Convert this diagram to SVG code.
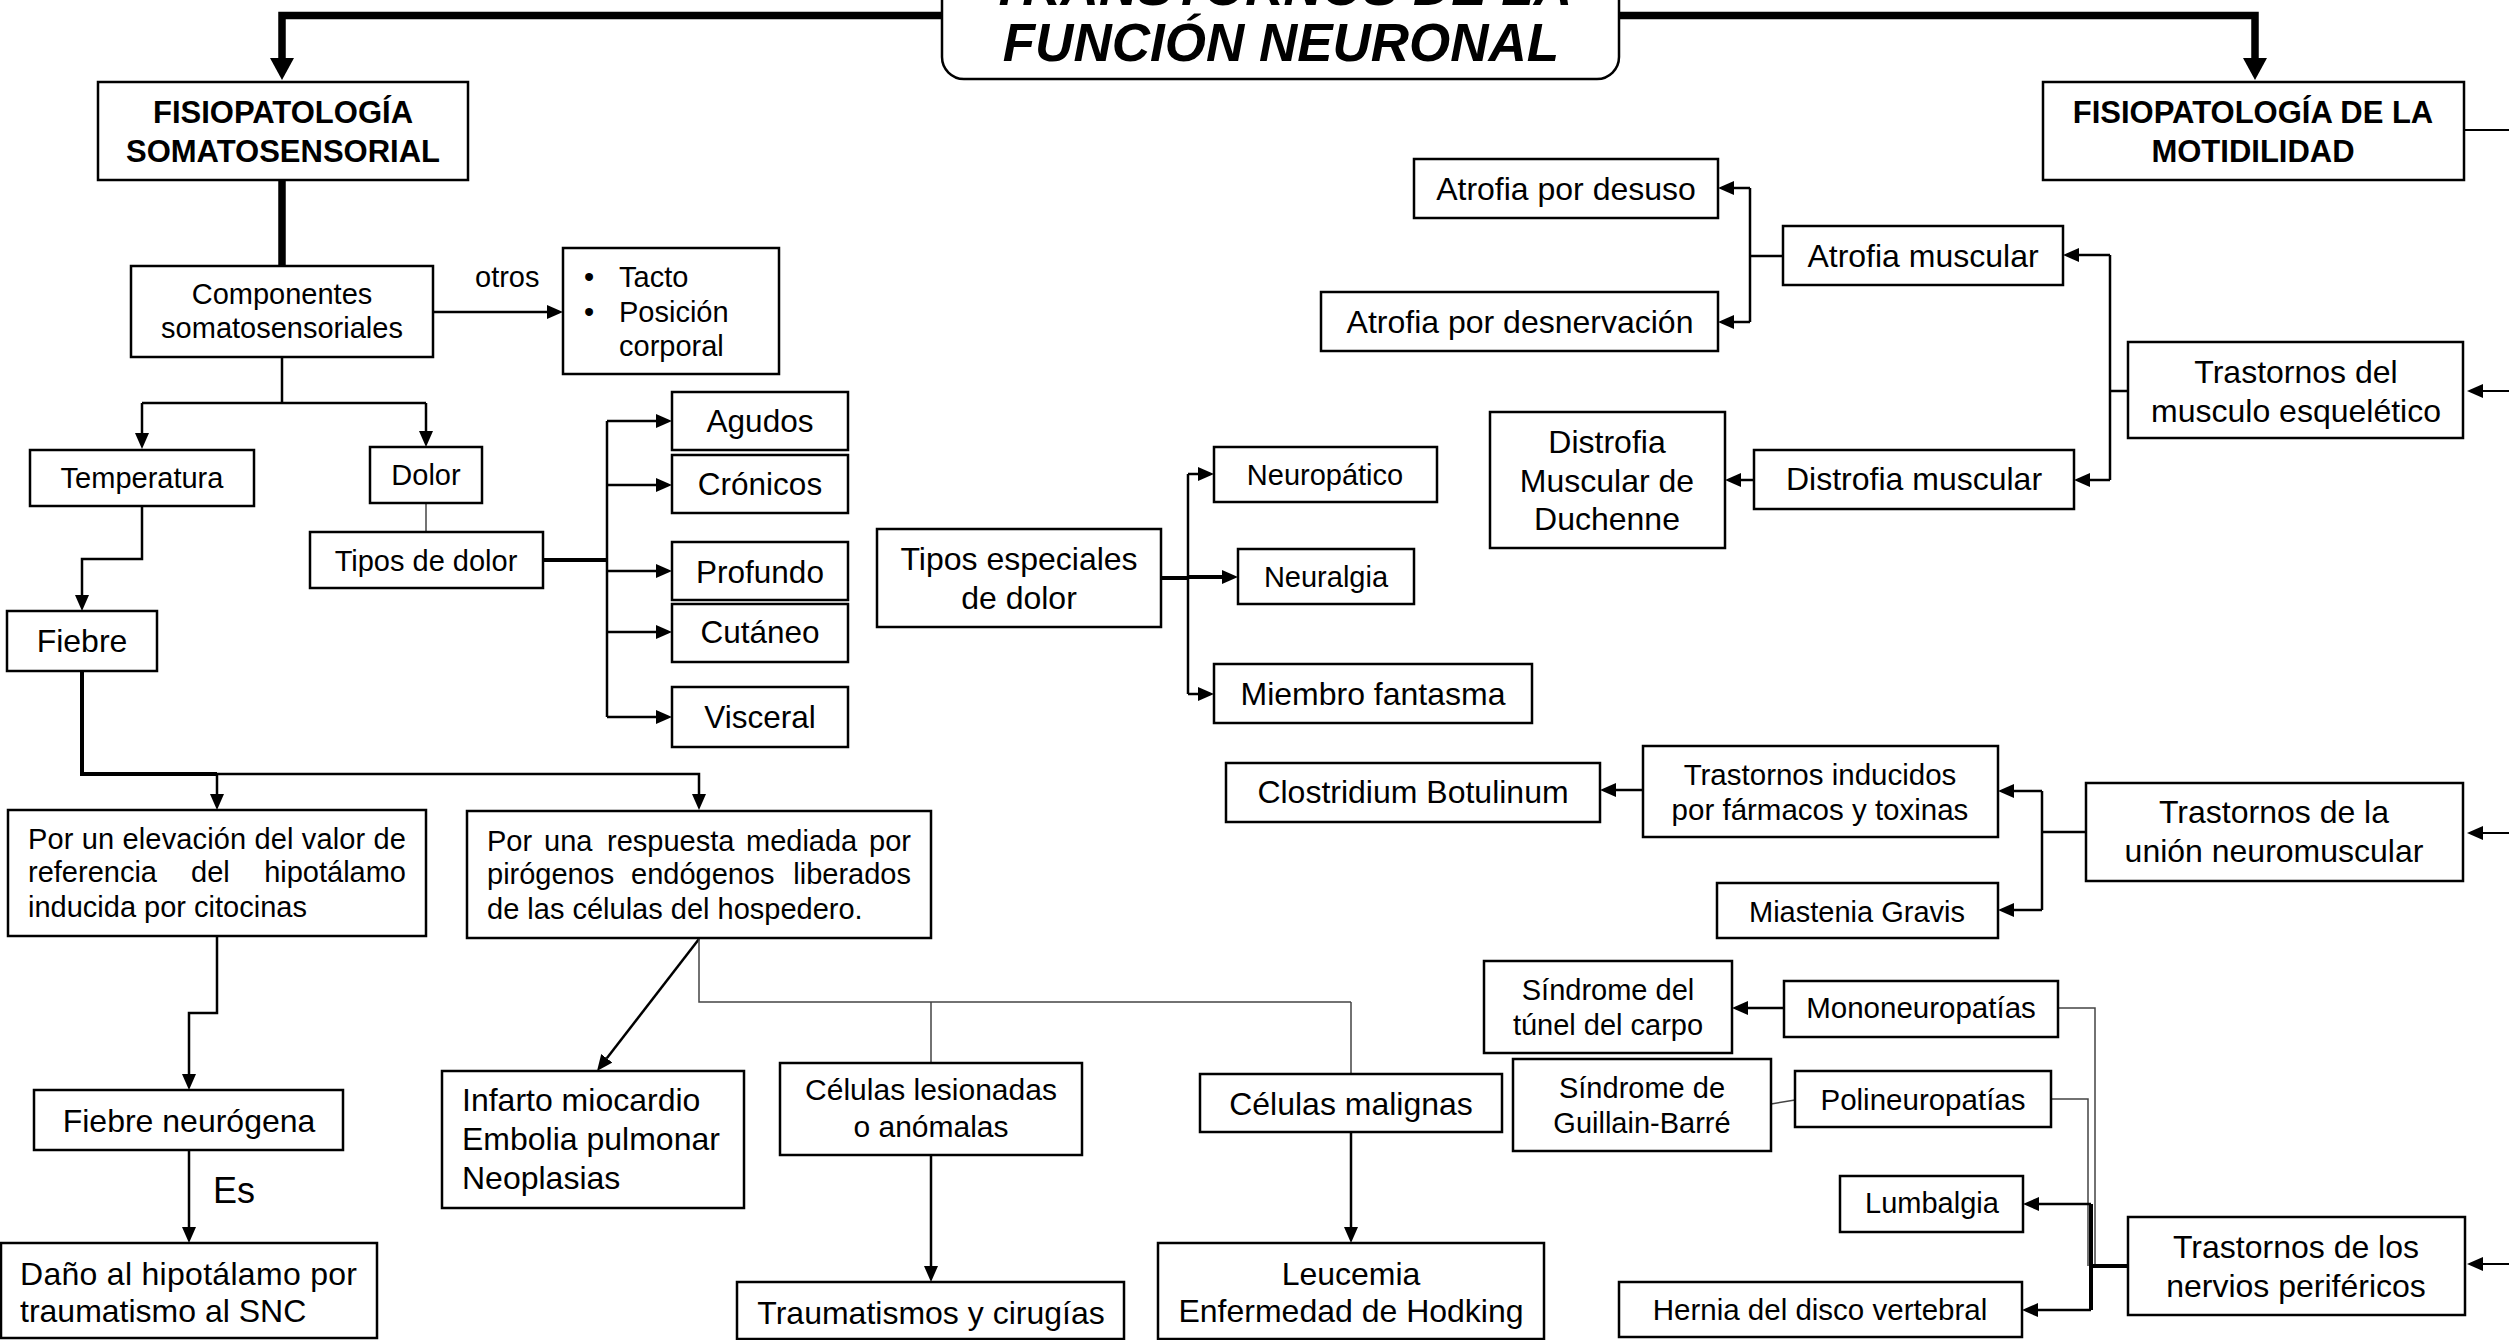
<svg xmlns="http://www.w3.org/2000/svg" width="2509" height="1340" viewBox="0 0 2509 1340">
<style>
text{font-family:'Liberation Sans',Arial,sans-serif;fill:#000}
.m{text-anchor:middle}
.e{text-anchor:end}
.b{font-weight:bold}
.s29{font-size:29px}
.s30{font-size:30px}
.s31{font-size:31.5px}
.s32{font-size:32px}
.box{fill:#fff;stroke:#000;stroke-width:2.5}
#connectors path{fill:none;stroke:#000;stroke-width:2.5}
#connectors path.thin{stroke-width:1.5;stroke:#444}
#connectors path.thick{stroke-width:4}
#connectors path.heavy{stroke-width:7.5}
#connectors path.edge{stroke-width:2}
.arr{marker-end:url(#a)}
.big{marker-end:url(#ab)}
</style>
<defs>
<marker id="a" markerUnits="userSpaceOnUse" viewBox="0 0 16 14" refX="0" refY="7" markerWidth="16" markerHeight="14" orient="auto"><path d="M0,0L16,7L0,14z" fill="#000"/></marker>
<marker id="ab" markerUnits="userSpaceOnUse" viewBox="0 0 22 24" refX="0" refY="12" markerWidth="22" markerHeight="24" orient="auto"><path d="M0,0L22,12L0,24z" fill="#000"/></marker>
</defs>
<rect width="2509" height="1340" fill="#fff"/>
<g id="connectors">
<path class="heavy big" d="M1281,15.5H282V58"/>
<path class="heavy big" d="M1281,15.5H2255V58"/>
<path class="heavy" d="M282,180V266"/>
<path class="arr" d="M433,312H547"/>
<path d="M282,357V403M142,403H426"/>
<path class="arr" d="M142,403V433"/>
<path class="arr" d="M426,403V431"/>
<path class="thin" d="M426,503V532"/>
<path class="thick" d="M543,560H607"/>
<path d="M607,421V717"/>
<path class="arr" d="M607,421H656"/>
<path class="arr" d="M607,485H656"/>
<path class="arr" d="M607,571H656"/>
<path class="arr" d="M607,632H656"/>
<path class="arr" d="M607,717H656"/>
<path class="arr" d="M142,506V559H82V595"/>
<path class="thick" d="M82,671V774H217"/>
<path class="arr" d="M217,774H699V794"/>
<path class="arr" d="M217,774V794"/>
<path class="arr" d="M217,937V1013H189V1074"/>
<path class="arr" d="M189,1150V1227"/>
<path class="arr" d="M699,939L606.8,1058.3"/>
<path class="thin" d="M699,939V1002H1351M931,1002V1063M1351,1002V1074"/>
<path class="arr" d="M931,1155V1266"/>
<path class="arr" d="M1351,1132V1227"/>
<path class="thick" d="M1161,578H1188"/>
<path class="thick arr" d="M1188,577H1222"/>
<path d="M1188,474V694"/>
<path class="arr" d="M1188,474H1198"/>
<path class="arr" d="M1188,694H1198"/>
<path d="M1783,256H1750M1750,188V322"/>
<path class="arr" d="M1750,188H1734"/>
<path class="arr" d="M1750,322H1734"/>
<path d="M2128,391H2110M2110,255V480"/>
<path class="arr" d="M2110,255H2079"/>
<path class="arr" d="M2110,480H2090"/>
<path class="arr" d="M1754,480H1741"/>
<path class="edge" d="M2464,130H2509"/>
<path class="edge arr" d="M2509,391H2483"/>
<path class="edge arr" d="M2509,833H2483"/>
<path class="edge arr" d="M2509,1264H2483"/>
<path d="M2086,832H2042M2042,791V910"/>
<path class="arr" d="M2042,791H2014"/>
<path class="arr" d="M2042,910H2014"/>
<path class="arr" d="M1643,790H1616"/>
<path class="arr" d="M1784,1008H1748"/>
<path class="thin" d="M1795,1100L1771,1104"/>
<path class="thin" d="M2058,1008H2095V1266M2051,1099H2088V1266"/>
<path class="thick" d="M2128,1266H2091"/>
<path class="thick" d="M2091,1204V1310"/>
<path class="arr" d="M2091,1204H2039"/>
<path class="arr" d="M2091,1310H2038"/>
</g>
<g id="title">
<rect class="box" x="942" y="-60" width="677" height="139" rx="22"/>
<text class="m b" x="1281" y="5" font-size="53" font-style="italic">TRANSTORNOS DE LA</text>
<text class="m b" x="1281" y="61" font-size="53" font-style="italic">FUNCIÓN NEURONAL</text>
</g>
<g id="somatosensorial">
<rect class="box" x="98" y="82" width="370" height="98"/>
<text class="m b" x="283" y="123" font-size="31">FISIOPATOLOGÍA</text>
<text class="m b" x="283" y="162" font-size="31">SOMATOSENSORIAL</text>
</g>
<g id="componentes">
<rect class="box" x="131" y="266" width="302" height="91"/>
<text class="m s29" x="282" y="304">Componentes</text>
<text class="m s29" x="282" y="338">somatosensoriales</text>
</g>
<g id="otros-label"><text class="s29" x="475" y="287">otros</text></g>
<g id="tacto">
<rect class="box" x="563" y="248" width="216" height="126"/>
<text class="s29" x="584" y="287">•</text>
<text class="s29" x="619" y="287">Tacto</text>
<text class="s29" x="584" y="322">•</text>
<text class="s29" x="619" y="322">Posición</text>
<text class="s29" x="619" y="356">corporal</text>
</g>
<g id="temperatura">
<rect class="box" x="30" y="450" width="224" height="56"/>
<text class="m s29" x="142" y="488">Temperatura</text>
</g>
<g id="dolor">
<rect class="box" x="370" y="447" width="112" height="56"/>
<text class="m s29" x="426" y="485">Dolor</text>
</g>
<g id="tipos-dolor">
<rect class="box" x="310" y="532" width="233" height="56"/>
<text class="m s29" x="426" y="571">Tipos de dolor</text>
</g>
<g id="agudos"><rect class="box" x="672" y="392" width="176" height="58"/><text class="m s31" x="760" y="432">Agudos</text></g>
<g id="cronicos"><rect class="box" x="672" y="455" width="176" height="58"/><text class="m s31" x="760" y="495">Crónicos</text></g>
<g id="profundo"><rect class="box" x="672" y="542" width="176" height="58"/><text class="m s31" x="760" y="583">Profundo</text></g>
<g id="cutaneo"><rect class="box" x="672" y="604" width="176" height="58"/><text class="m s31" x="760" y="643">Cutáneo</text></g>
<g id="visceral"><rect class="box" x="672" y="687" width="176" height="60"/><text class="m s31" x="760" y="728">Visceral</text></g>
<g id="fiebre">
<rect class="box" x="7" y="611" width="150" height="60"/>
<text class="m s32" x="82" y="652">Fiebre</text>
</g>
<g id="elevacion">
<rect class="box" x="8" y="810" width="418" height="126"/>
<text class="s29" x="28" y="849" textLength="378" lengthAdjust="spacing">Por un elevación del valor de</text>
<text class="s29" x="28" y="882">referencia</text>
<text class="s29" x="191" y="882">del</text>
<text class="s29 e" x="406" y="882">hipotálamo</text>
<text class="s29" x="28" y="917">inducida por citocinas</text>
</g>
<g id="respuesta">
<rect class="box" x="467" y="811" width="464" height="127"/>
<text class="s29" x="487" y="851">Por</text>
<text class="s29" x="544" y="851">una</text>
<text class="s29" x="607" y="851">respuesta</text>
<text class="s29" x="746" y="851">mediada</text>
<text class="s29 e" x="911" y="851">por</text>
<text class="s29" x="487" y="884">pirógenos</text>
<text class="s29" x="631" y="884">endógenos</text>
<text class="s29 e" x="911" y="884">liberados</text>
<text class="s29" x="487" y="919">de las células del hospedero.</text>
</g>
<g id="neurogena">
<rect class="box" x="34" y="1090" width="309" height="60"/>
<text class="m s32" x="189" y="1132">Fiebre neurógena</text>
</g>
<g id="es-label"><text x="213" y="1203" font-family="'Noto Sans',sans-serif" font-size="36">Es</text></g>
<g id="dano">
<rect class="box" x="1" y="1243" width="376" height="95"/>
<text class="s32" x="20" y="1285" textLength="337" lengthAdjust="spacing">Daño al hipotálamo por</text>
<text class="s32" x="20" y="1322">traumatismo al SNC</text>
</g>
<g id="infarto">
<rect class="box" x="442" y="1071" width="302" height="137"/>
<text class="s32" x="462" y="1111">Infarto miocardio</text>
<text class="s32" x="462" y="1150">Embolia pulmonar</text>
<text class="s32" x="462" y="1189">Neoplasias</text>
</g>
<g id="lesionadas">
<rect class="box" x="780" y="1063" width="302" height="92"/>
<text class="m s30" x="931" y="1100">Células lesionadas</text>
<text class="m s30" x="931" y="1137">o anómalas</text>
</g>
<g id="traumatismos">
<rect class="box" x="737" y="1282" width="387" height="57"/>
<text class="m s32" x="931" y="1324">Traumatismos y cirugías</text>
</g>
<g id="malignas">
<rect class="box" x="1200" y="1074" width="302" height="58"/>
<text class="m s32" x="1351" y="1115">Células malignas</text>
</g>
<g id="leucemia">
<rect class="box" x="1158" y="1243" width="386" height="96"/>
<text class="m s32" x="1351" y="1285">Leucemia</text>
<text class="m s32" x="1351" y="1322">Enfermedad de Hodking</text>
</g>
<g id="especiales">
<rect class="box" x="877" y="529" width="284" height="98"/>
<text class="m s32" x="1019" y="570">Tipos especiales</text>
<text class="m s32" x="1019" y="609">de dolor</text>
</g>
<g id="neuropatico"><rect class="box" x="1214" y="447" width="223" height="55"/><text class="m s29" x="1325" y="485">Neuropático</text></g>
<g id="neuralgia"><rect class="box" x="1238" y="549" width="176" height="55"/><text class="m s29" x="1326" y="587">Neuralgia</text></g>
<g id="fantasma"><rect class="box" x="1214" y="664" width="318" height="59"/><text class="m s32" x="1373" y="705">Miembro fantasma</text></g>
<g id="motilidad">
<rect class="box" x="2043" y="82" width="421" height="98"/>
<text class="m b" x="2253" y="123" font-size="31">FISIOPATOLOGÍA DE LA</text>
<text class="m b" x="2253" y="162" font-size="31">MOTIDILIDAD</text>
</g>
<g id="desuso"><rect class="box" x="1414" y="159" width="304" height="59"/><text class="m s32" x="1566" y="200">Atrofia por desuso</text></g>
<g id="desnervacion"><rect class="box" x="1321" y="292" width="397" height="59"/><text class="m s32" x="1520" y="333">Atrofia por desnervación</text></g>
<g id="atrofia"><rect class="box" x="1783" y="226" width="280" height="59"/><text class="m s32" x="1923" y="267">Atrofia muscular</text></g>
<g id="esqueletico">
<rect class="box" x="2128" y="342" width="335" height="96"/>
<text class="m s32" x="2296" y="383">Trastornos del</text>
<text class="m s32" x="2296" y="422">musculo esquelético</text>
</g>
<g id="distrofia"><rect class="box" x="1754" y="450" width="320" height="59"/><text class="m s32" x="1914" y="490">Distrofia muscular</text></g>
<g id="duchenne">
<rect class="box" x="1490" y="412" width="235" height="136"/>
<text class="m s32" x="1607" y="453">Distrofia</text>
<text class="m s32" x="1607" y="492">Muscular de</text>
<text class="m s32" x="1607" y="530">Duchenne</text>
</g>
<g id="union">
<rect class="box" x="2086" y="783" width="377" height="98"/>
<text class="m s32" x="2274" y="823">Trastornos de la</text>
<text class="m s32" x="2274" y="862">unión neuromuscular</text>
</g>
<g id="inducidos">
<rect class="box" x="1643" y="746" width="355" height="91"/>
<text class="m" x="1820" y="785" font-size="29.5">Trastornos inducidos</text>
<text class="m" x="1820" y="820" font-size="29.5">por fármacos y toxinas</text>
</g>
<g id="clostridium"><rect class="box" x="1226" y="763" width="374" height="59"/><text class="m s32" x="1413" y="803">Clostridium Botulinum</text></g>
<g id="miastenia"><rect class="box" x="1717" y="883" width="281" height="55"/><text class="m s29" x="1857" y="922">Miastenia Gravis</text></g>
<g id="tunel">
<rect class="box" x="1484" y="961" width="248" height="92"/>
<text class="m s29" x="1608" y="1000">Síndrome del</text>
<text class="m s29" x="1608" y="1035">túnel del carpo</text>
</g>
<g id="mono"><rect class="box" x="1784" y="981" width="274" height="56"/><text class="m" x="1921" y="1018" font-size="29.5">Mononeuropatías</text></g>
<g id="guillain">
<rect class="box" x="1513" y="1059" width="258" height="92"/>
<text class="m s29" x="1642" y="1098">Síndrome de</text>
<text class="m s29" x="1642" y="1133">Guillain-Barré</text>
</g>
<g id="poli"><rect class="box" x="1795" y="1071" width="256" height="56"/><text class="m" x="1923" y="1110" font-size="29.5">Polineuropatías</text></g>
<g id="lumbalgia"><rect class="box" x="1840" y="1176" width="183" height="56"/><text class="m s29" x="1932" y="1213">Lumbalgia</text></g>
<g id="hernia"><rect class="box" x="1619" y="1282" width="403" height="55"/><text class="m" x="1820" y="1320" font-size="29.5">Hernia del disco vertebral</text></g>
<g id="nervios">
<rect class="box" x="2128" y="1217" width="337" height="98"/>
<text class="m s32" x="2296" y="1258">Trastornos de los</text>
<text class="m s32" x="2296" y="1297">nervios periféricos</text>
</g>
</svg>
